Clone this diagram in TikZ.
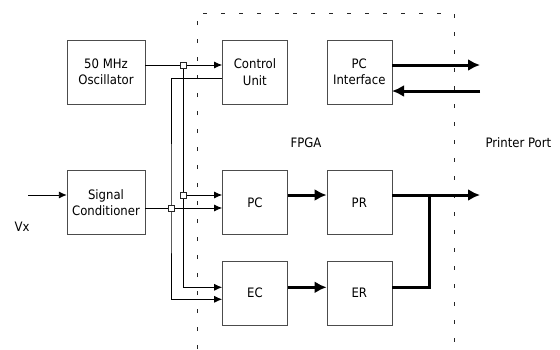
\documentclass[tikz,border=0pt]{standalone}
\usepackage{fontspec}
\setmainfont{DejaVu Sans Condensed}
\usetikzlibrary{arrows.meta,positioning,calc}

\begin{document}
\begin{tikzpicture}[x=1pt,y=-1pt,
  blk/.style={draw=black!70,minimum width=65pt,minimum height=64pt,align=center,inner sep=1pt,font=\fontsize{13}{16.5}\selectfont},
  wide/.style={blk,minimum width=78pt},
  jn/.style={draw=black!85,fill=white,minimum size=6pt,inner sep=0pt},
  sig/.style={-{Latex[length=8pt,width=7pt]},line width=0.9pt},
  bus/.style={-{Latex[length=12pt,width=12pt]},line width=3pt},
  lbl/.style={font=\fontsize{13}{16.5}\selectfont},
  frame/.style={draw=black!85,line width=0.8pt,dash pattern=on 4pt off 14pt}]
\useasboundingbox (0,0) rectangle (560,349);
% blocks
\node[wide] (osc) at (106,72) {50 MHz\\Oscillator};
\node[blk,right=77pt of osc] (ctrl) {Control\\Unit};
\node[blk,right=39pt of ctrl] (pcif) {PC\\Interface};
\node[wide,below=66pt of osc] (cond) {Signal\\Conditioner};
\node[blk,below=66pt of ctrl] (pc) {PC};
\node[blk,below=66pt of pcif] (pr) {PR};
\node[blk,below=26pt of pc] (ec) {EC};
\node[blk,below=26pt of pr] (er) {ER};
% labels
\node[lbl] (fpga) at (306,143) {FPGA};
\node[lbl,anchor=west] (port) at (482,143) {Printer Port};
\node[lbl] (vxl) at (22,227) {Vx};
% FPGA boundary
\draw[frame] (197,349) -- (197,13) -- (454,13) -- (454,349);
% junction points and port ends
\coordinate (j1) at (183,65);
\coordinate (j2) at (183,195);
\coordinate (j3) at (171,208);
\coordinate (vx) at (28,195);
\coordinate (tap) at (429,195);
\coordinate (pp1) at (480,65);
\coordinate (pp2) at (480,91);
\coordinate (pp3) at (480,195);
% thin signals
\draw[sig] (osc.east |- j1) -- (ctrl.west |- j1);
\draw[line width=0.9pt] (j1) -- (j2);
\draw[sig] (j2) -- (pc.west |- j2);
\draw[sig] (j2) |- ([yshift=5.5pt]ec.west);
\draw[sig] ([yshift=-6pt]ctrl.west) -| (j3) |- ([yshift=-6.5pt]ec.west);
\draw[sig] (cond.east |- j3) -- (pc.west |- j3);
\draw[sig] (vx) -- (cond.west |- vx);
% data paths
\draw[bus] (pc.east |- j2) -- (pr.west |- j2);
\draw[bus] ([yshift=5.5pt]ec.east) -- ([yshift=5.5pt]er.west);
\draw[bus] (pr.east |- pp3) -- (pp3);
\draw[line width=3pt] ([yshift=5.5pt]er.east) -| (tap);
\draw[bus] (pcif.east |- pp1) -- (pp1);
\draw[bus] (pp2) -- (pcif.east |- pp2);
\foreach \j in {j1,j2,j3} \node[jn] at (\j) {};
\end{tikzpicture}
\end{document}
